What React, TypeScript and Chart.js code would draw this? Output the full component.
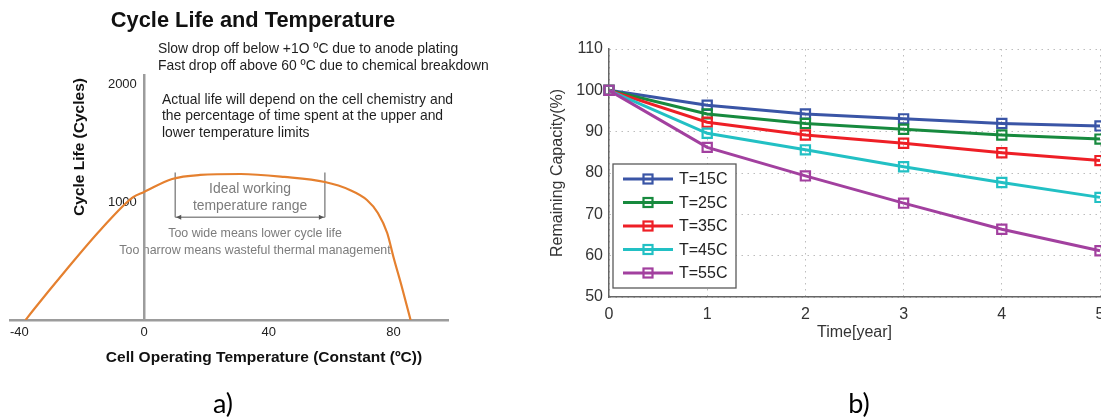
import React, { useEffect, useRef } from 'react';
import { Chart, registerables } from 'chart.js';

Chart.register(...registerables);

const FONT = "'Liberation Sans', Arial, Helvetica, sans-serif";

// ---------- Panel a) data ----------
const chartTitleA = 'Cycle Life and Temperature';
const xTitleA = 'Cell Operating Temperature (Constant (ºC))';
const yTitleA = 'Cycle Life (Cycles)';
const tempsA = [-38, -35.5, -25, -14, -3.5, 0, 9, 18, 31, 45, 58, 66, 71.5, 75, 78, 80, 82.7, 85.5];
const cyclesA = [0, 85, 424, 763, 1042, 1085, 1195, 1229, 1237, 1212, 1169, 1102, 1017, 907, 737, 534, 280, 0];
const xTicksA = [-40, 0, 40, 80];
const yTicksA = [1000, 2000];
const idealRange = [10, 58];
const notesTop = [
  'Slow drop off below +1O ºC due to anode plating',
  'Fast drop off above 60 ºC due to chemical breakdown',
];
const notesMid = [
  'Actual life will depend on the cell chemistry and',
  'the percentage of time spent at the upper and',
  'lower temperature limits',
];
const idealLabel = ['Ideal working', 'temperature range'];
const rangeNotes = ['Too wide means lower cycle life', 'Too narrow means wasteful thermal management'];

// ---------- Panel b) data ----------
const years = [0, 1, 2, 3, 4, 5];
const cap15 = [100, 96.4, 94.3, 93.1, 92.0, 91.4];
const cap25 = [100, 94.3, 92.0, 90.6, 89.2, 88.2];
const cap35 = [100, 92.3, 89.2, 87.2, 84.9, 83.0];
const cap45 = [100, 89.6, 85.6, 81.5, 77.7, 74.1];
const cap55 = [100, 86.2, 79.3, 72.7, 66.4, 61.2];
const seriesLabels = ['T=15C', 'T=25C', 'T=35C', 'T=45C', 'T=55C'];
const seriesColors = ['#3a55a6', '#178a3e', '#ee1f26', '#22c0c4', '#a2409f'];
const yearTicks = [0, 1, 2, 3, 4, 5];
const capTicks = [50, 60, 70, 80, 90, 100, 110];
const xTitleB = 'Time[year]';
const yTitleB = 'Remaining Capacity(%)';

const annotA = {
  id: 'annotA',
  beforeDraw(chart: any) {
    const { ctx, scales } = chart;
    const x = scales.x;
    const y = scales.y;
    ctx.save();
    // title
    ctx.fillStyle = '#111';
    ctx.textBaseline = 'middle';
    ctx.textAlign = 'center';
    ctx.font = `bold 21.8px ${FONT}`;
    ctx.fillText(chartTitleA, 253, 21);
    // x axis title
    ctx.font = `bold 15.5px ${FONT}`;
    ctx.fillText(xTitleA, 264, 358);
    // notes
    ctx.fillStyle = '#1e1e1e';
    ctx.textAlign = 'left';
    ctx.font = `13.9px ${FONT}`;
    notesTop.forEach((t, i) => ctx.fillText(t, 158, 49 + i * 17));
    notesMid.forEach((t, i) => ctx.fillText(t, 162, 100 + i * 16.5));
    // bracket for ideal range
    const xl = x.getPixelForValue(idealRange[0]);
    const xr = x.getPixelForValue(idealRange[1]);
    const yt = y.getPixelForValue(1250);
    const yb = y.getPixelForValue(870);
    ctx.strokeStyle = '#8d8d8d';
    ctx.lineWidth = 1.5;
    ctx.beginPath();
    ctx.moveTo(xl, yt); ctx.lineTo(xl, yb);
    ctx.moveTo(xr, yt); ctx.lineTo(xr, yb);
    ctx.moveTo(xl, yb); ctx.lineTo(xr, yb);
    ctx.stroke();
    ctx.fillStyle = '#555';
    ctx.beginPath();
    ctx.moveTo(xl + 1, yb); ctx.lineTo(xl + 6, yb - 2.5); ctx.lineTo(xl + 6, yb + 2.5); ctx.closePath();
    ctx.moveTo(xr - 1, yb); ctx.lineTo(xr - 6, yb - 2.5); ctx.lineTo(xr - 6, yb + 2.5); ctx.closePath();
    ctx.fill();
    // gray labels
    ctx.fillStyle = '#7c7c7c';
    ctx.textAlign = 'center';
    ctx.font = `13.9px ${FONT}`;
    idealLabel.forEach((t, i) => ctx.fillText(t, (xl + xr) / 2, 189 + i * 17));
    ctx.font = `12.4px ${FONT}`;
    rangeNotes.forEach((t, i) => ctx.fillText(t, 255, 234 + i * 16.5));
    // y title
    ctx.fillStyle = '#111';
    ctx.font = `bold 15.5px ${FONT}`;
    ctx.translate(80, 147);
    ctx.rotate(-Math.PI / 2);
    ctx.fillText(yTitleA, 0, 0);
    ctx.restore();
  },
};

const legendB = {
  id: 'legendB',
  afterDraw(chart: any) {
    const { ctx, chartArea: ca } = chart;
    const bx = ca.left + 4;
    const by = ca.top + 115;
    const bw = 123;
    const bh = 124;
    ctx.save();
    ctx.fillStyle = '#fff';
    ctx.fillRect(bx, by, bw, bh);
    ctx.strokeStyle = '#5a5a5a';
    ctx.lineWidth = 1.3;
    ctx.strokeRect(bx, by, bw, bh);
    chart.data.datasets.forEach((ds: any, i: number) => {
      const yy = by + 15 + i * 23.5;
      ctx.strokeStyle = ds.borderColor;
      ctx.lineWidth = 3;
      ctx.beginPath();
      ctx.moveTo(bx + 10, yy);
      ctx.lineTo(bx + 60, yy);
      ctx.stroke();
      ctx.lineWidth = 2.2;
      ctx.strokeRect(bx + 35 - 4.5, yy - 4.5, 9, 9);
      ctx.fillStyle = '#222';
      ctx.font = `16px ${FONT}`;
      ctx.textAlign = 'left';
      ctx.textBaseline = 'middle';
      ctx.fillText(ds.label, bx + 66, yy + 1);
    });
    ctx.restore();
  },
};

export default function App() {
  const refA = useRef<HTMLCanvasElement>(null);
  const refB = useRef<HTMLCanvasElement>(null);

  useEffect(() => {
    const chartA = new Chart(refA.current as HTMLCanvasElement, {
      type: 'line',
      data: {
        datasets: [
          {
            label: 'Cycle life',
            data: tempsA.map((t, i) => ({ x: t, y: cyclesA[i] })),
            borderColor: '#e5802f',
            borderWidth: 2.2,
            pointRadius: 0,
            fill: false,
            cubicInterpolationMode: 'monotone',
          },
        ],
      },
      options: {
        responsive: false,
        animation: false,
        devicePixelRatio: 1,
        layout: { padding: { top: 75, left: 10, right: 72, bottom: 52 } },
        plugins: { legend: { display: false }, tooltip: { enabled: false }, title: { display: false } },
        scales: {
          x: {
            type: 'linear',
            min: -43,
            max: 97.5,
            afterBuildTicks: (s: any) => { s.ticks = xTicksA.map((v) => ({ value: v })); },
            afterFit: (s: any) => { s.height = 47; },
            grid: { display: false, drawTicks: false },
            border: { display: true, color: '#9c9c9c', width: 2.5 },
            ticks: { padding: 5, color: '#222', font: { family: FONT, size: 13 } },
            title: { display: false },
          },
          y: {
            type: 'linear',
            min: 0,
            max: 2076,
            position: { x: 0 } as any,
            afterBuildTicks: (s: any) => { s.ticks = yTicksA.map((v) => ({ value: v })); },
            grid: { display: false, drawTicks: false },
            border: { display: true, color: '#9c9c9c', width: 2.5 },
            ticks: { padding: 6, color: '#222', font: { family: FONT, size: 13 }, callback: (v: any) => `${v}  ` },
          },
        },
      } as any,
      plugins: [annotA],
    });

    const series = [cap15, cap25, cap35, cap45, cap55];
    const chartB = new Chart(refB.current as HTMLCanvasElement, {
      type: 'line',
      data: {
        datasets: series.map((vals, i) => ({
          label: seriesLabels[i],
          data: years.map((yr, j) => ({ x: yr, y: vals[j] })),
          borderColor: seriesColors[i],
          backgroundColor: 'rgba(255,255,255,0)',
          borderWidth: 3,
          pointStyle: 'rect',
          pointRadius: 6.5,
          pointBorderWidth: 2.2,
          pointBackgroundColor: 'rgba(255,255,255,0)',
          pointBorderColor: seriesColors[i],
          fill: false,
          tension: 0,
          clip: false,
          order: series.length - 1 - i,
        })),
      },
      options: {
        responsive: false,
        animation: false,
        devicePixelRatio: 1,
        layout: { padding: { top: 49, left: 0, right: 30, bottom: 77 } },
        plugins: { legend: { display: false }, tooltip: { enabled: false }, title: { display: false } },
        scales: {
          x: {
            type: 'linear',
            min: 0,
            max: 5,
            afterBuildTicks: (s: any) => { s.ticks = yearTicks.map((v) => ({ value: v })); },
            afterFit: (s: any) => { s.height = 45; },
            grid: { color: '#bdbdbd', lineWidth: 1, drawTicks: false },
            border: { display: true, color: '#666', width: 1.5, dash: [1.5, 4.5] },
            ticks: { padding: 8, color: '#333', font: { family: FONT, size: 16 } },
            title: { display: true, text: xTitleB, color: '#333', font: { family: FONT, size: 16 }, padding: 0 },
          },
          y: {
            type: 'linear',
            min: 50,
            max: 110,
            afterBuildTicks: (s: any) => { s.ticks = capTicks.map((v) => ({ value: v })); },
            afterFit: (s: any) => { s.width = 79; },
            grid: { color: '#bdbdbd', lineWidth: 1, drawTicks: false },
            border: { display: true, color: '#666', width: 1.5, dash: [1.5, 4.5] },
            ticks: { padding: 6, color: '#333', font: { family: FONT, size: 16 } },
            title: { display: true, text: yTitleB, color: '#333', font: { family: FONT, size: 16 }, padding: { top: 18, bottom: 0 } },
          },
        },
      } as any,
      plugins: [legendB],
    });

    return () => {
      chartA.destroy();
      chartB.destroy();
    };
  }, []);

  const capStyle: React.CSSProperties = {
    position: 'absolute',
    width: 80,
    textAlign: 'center',
    fontFamily: "Lato, 'Open Sans', sans-serif",
    fontSize: 27,
    lineHeight: '30px',
    color: '#000',
  };

  return (
    <div style={{ position: 'absolute', left: 0, top: 0, width: 1101, height: 419, overflow: 'hidden', background: '#fff' }}>
      <canvas ref={refA} width={520} height={419} style={{ position: 'absolute', left: 0, top: 0 }} />
      <canvas ref={refB} width={600} height={419} style={{ position: 'absolute', left: 530, top: 0 }} />
      <div style={{ ...capStyle, left: 183, top: 388 }}>a)</div>
      <div style={{ ...capStyle, left: 819, top: 388 }}>b)</div>
    </div>
  );
}
